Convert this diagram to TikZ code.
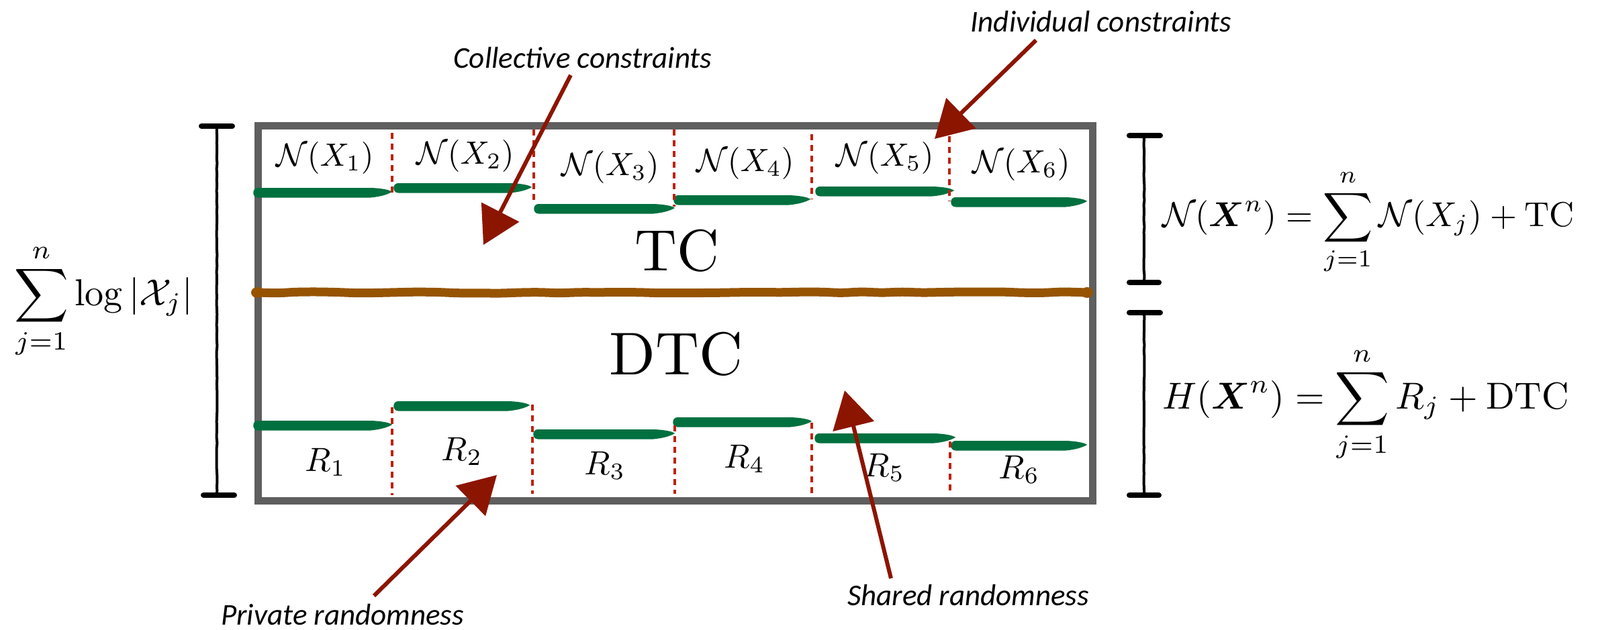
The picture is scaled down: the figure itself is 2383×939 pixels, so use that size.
\documentclass[tikz,border=0pt]{standalone}
\usepackage{amsmath}
\usepackage{bm}
\usepackage{fontspec}
\newfontfamily\labfont{Carlito}
\usetikzlibrary{arrows.meta,decorations.pathmorphing,calc}
\definecolor{boxgray}{HTML}{5F5F5F}
\definecolor{brushgreen}{HTML}{00703F}
\definecolor{brownline}{HTML}{965400}
\definecolor{dashred}{HTML}{C0200A}
\definecolor{arrred}{HTML}{8C1500}
\newcommand{\brushbar}[3]{%
  \fill[brushgreen] (#1,#3-7) -- (#2-32,#3-7)
    .. controls (#2-16,#3-6.5) and (#2-3,#3-4) .. (#2,#3-1)
    .. controls (#2-6,#3+2.5) and (#2-16,#3+6) .. (#2-32,#3+7.5)
    -- (#1,#3+7.5) .. controls (#1-9,#3+7.5) and (#1-9,#3-7) .. (#1,#3-7) -- cycle;}
\begin{document}
\begin{tikzpicture}[x=1pt,y=-1pt,
  boxline/.style={draw=boxgray,line width=10.5pt,fill=white,minimum width=1243pt,minimum height=559pt,inner sep=0pt,anchor=north west},
  dashline/.style={draw=dashred,line width=4.5pt,dash pattern=on 9pt off 7pt},
  midline/.style={draw=brownline,line width=13pt,line cap=round,decorate,decoration={random steps,segment length=30pt,amplitude=1.2pt},rounded corners=10pt},
  arr/.style={draw=arrred,fill=arrred,line width=6pt,-{Triangle[length=55pt,width=62pt]}},
  lab/.style={font=\labfont\itshape\fontsize{45}{54}\selectfont,inner sep=0pt,anchor=base},
  nlab/.style={inner sep=0pt,anchor=base,scale=4.8},
  rlab/.style={inner sep=0pt,anchor=base,scale=5.0},
  big/.style={inner sep=0pt,anchor=base},
  formula/.style={inner sep=0pt,anchor=base west},
  brk/.style={draw=black,line width=4pt,decorate,decoration={random steps,segment length=8pt,amplitude=0.5pt}},
  bcap/.style={draw=black,line width=8pt,line cap=round}
]
\useasboundingbox (0,0) rectangle (2383,939);
\fill[white] (0,0) rectangle (2383,939);

% main box
\node[boxline] (box) at (379,182) {};

% green brush strokes (top)
\brushbar{384}{584}{287}
\brushbar{593}{792}{280}
\brushbar{802}{1005}{311}
\brushbar{1010}{1207}{298}
\brushbar{1221}{1421}{285}
\brushbar{1423}{1619}{301}
% green brush strokes (bottom)
\brushbar{384}{584}{634}
\brushbar{593}{789}{605}
\brushbar{801}{1005}{647}
\brushbar{1009}{1209}{629}
\brushbar{1220}{1423}{653}
\brushbar{1423}{1619}{664}

% dashed separators (top)
\draw[dashline] (584,198) -- (584,287);
\draw[dashline] (795,193) -- (795,305);
\draw[dashline] (1004,193) -- (1004,308);
\draw[dashline] (1209,200) -- (1209,297);
\draw[dashline] (1414,203) -- (1414,300);
% dashed separators (bottom)
\draw[dashline] (584,607) -- (584,738);
\draw[dashline] (793,603) -- (793,736);
\draw[dashline] (1005,634) -- (1005,736);
\draw[dashline] (1209,630) -- (1209,736);
\draw[dashline] (1415,658) -- (1415,736);

% brown middle line
\coordinate (ml) at (383,436);
\coordinate (mr) at (1619,436);
\draw[midline] (ml) -- (mr);
\fill[brownline] (ml) ellipse (9 and 8);
\fill[brownline] (mr) ellipse (9 and 8);

% top labels
\node[nlab] (n1) at (484,247) {$\mathcal{N}(X_1)$};
\node[nlab] (n2) at (693,244) {$\mathcal{N}(X_2)$};
\node[nlab] (n3) at (909,261) {$\mathcal{N}(X_3)$};
\node[nlab] (n4) at (1110,255) {$\mathcal{N}(X_4)$};
\node[nlab] (n5) at (1318,247) {$\mathcal{N}(X_5)$};
\node[nlab] (n6) at (1521,257) {$\mathcal{N}(X_6)$};
% bottom labels
\node[rlab] (r1) at (485,702) {$R_1$};
\node[rlab] (r2) at (688,686) {$R_2$};
\node[rlab] (r3) at (901,707) {$R_3$};
\node[rlab] (r4) at (1109,697) {$R_4$};
\node[rlab] (r5) at (1317,710) {$R_5$};
\node[rlab] (r6) at (1518,713) {$R_6$};

% TC / DTC
\node[big,scale=8.7] (tc) at (1008,403) {TC};
\node[big,scale=9.0] (dtc) at (1007,558) {DTC};

% left bracket and formula
\coordinate (lbt) at (323,188);
\coordinate (lbb) at (323,738);
\draw[brk] (lbt) -- (lbb);
\draw[bcap] ($(lbt)+(-23,0)$) -- ($(lbt)+(23,0)$);
\draw[bcap] ($(lbb)+(-20,0)$) -- ($(lbb)+(26,0)$);
\node[formula,scale=5.6] (lf) at (20,455) {$\displaystyle\sum_{j=1}^{n}\log|\mathcal{X}_j|$};

% right brackets and formulas
\coordinate (rbt1) at (1704,202);
\coordinate (rbb1) at (1704,421);
\coordinate (rbt2) at (1704,466);
\coordinate (rbb2) at (1704,738);
\draw[brk] (rbt1) -- (rbb1);
\draw[brk] (rbt2) -- (rbb2);
\draw[bcap] ($(rbt1)+(-22,0)$) -- ($(rbt1)+(24,0)$);
\draw[bcap] ($(rbb1)+(-22,0)$) -- ($(rbb1)+(22,0)$);
\draw[bcap] ($(rbt2)+(-22,0)$) -- ($(rbt2)+(24,0)$);
\draw[bcap] ($(rbb2)+(-22,0)$) -- ($(rbb2)+(22,0)$);
\node[formula,scale=5.15] (f1) at (1730,337) {$\displaystyle\mathcal{N}(\bm{X}^n)=\sum_{j=1}^{n}\mathcal{N}(X_j)+\mathrm{TC}$};
\node[formula,scale=5.6] (f2) at (1730,609) {$\displaystyle H(\bm{X}^n)=\sum_{j=1}^{n}R_j+\mathrm{DTC}$};

% annotation labels
\node[lab] (cc) at (868,102) {Collective constraints};
\node[lab] (ic) at (1640,48) {Individual constraints};
\node[lab] (pr) at (510,931) {Private randomness};
\node[lab] (sr) at (1442,902) {Shared randomness};

% arrows
\coordinate (cctail) at (850,112);
\coordinate (cctip) at (720,365);
\coordinate (ictail) at (1543,60);
\coordinate (ictip) at (1392,207);
\coordinate (prtail) at (557,888);
\coordinate (prtip) at (740,708);
\coordinate (srtail) at (1327,862);
\coordinate (srtip) at (1258,582);
\draw[arr] (cctail) -- (cctip);
\draw[arr] (ictail) -- (ictip);
\draw[arr] (prtail) -- (prtip);
\draw[arr] (srtail) -- (srtip);
\end{tikzpicture}
\end{document}
